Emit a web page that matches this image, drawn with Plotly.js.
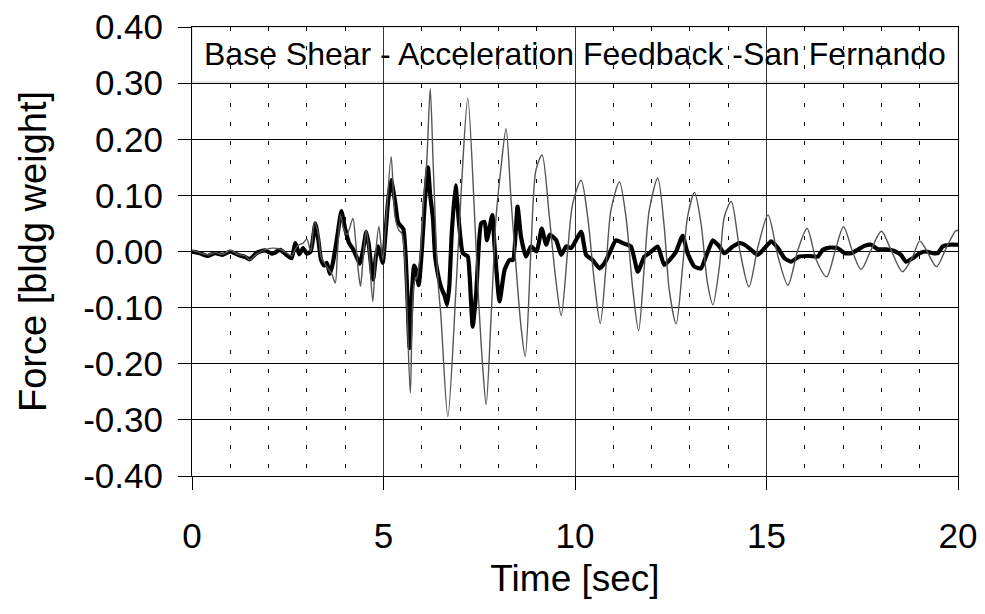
<!DOCTYPE html>
<html>
<head>
<meta charset="utf-8">
<script src="https://cdn.plot.ly/plotly-3.0.1.min.js"></script>
<style>html,body{margin:0;padding:0;background:#fff;}#chart{width:985px;height:614px;}</style>
</head>
<body>
<div id="chart"></div>
<script>
// Acceleration feedback (thick black)
const timeFeedback = [0,0.2,0.4,0.6,0.8,1.0,1.2,1.4,1.5,1.7,1.9,2.1,2.3,2.5,2.6,2.7,2.8,2.9,3.0,3.1,3.22,3.3,3.37,3.45,3.52,3.6,3.68,3.8,3.9,4.0,4.1,4.2,4.3,4.38,4.46,4.55,4.62,4.7,4.73,4.8,4.86,4.92,4.98,5.05,5.12,5.2,5.3,5.38,5.46,5.52,5.58,5.63,5.68,5.73,5.8,5.86,5.92,6.0,6.08,6.16,6.22,6.29,6.35,6.45,6.5,6.6,6.66,6.72,6.78,6.88,6.98,7.07,7.2,7.25,7.33,7.42,7.55,7.64,7.7,7.84,7.9,8.03,8.16,8.29,8.38,8.5,8.59,8.72,8.85,9.0,9.13,9.25,9.34,9.51,9.64,9.77,9.9,10.16,10.29,10.46,10.64,10.77,10.9,11.07,11.25,11.46,11.64,11.81,11.94,12.16,12.33,12.51,12.64,12.81,12.94,13.12,13.29,13.42,13.6,13.77,13.9,14.12,14.3,14.43,14.6,14.77,14.95,15.12,15.3,15.47,15.64,15.86,16.12,16.34,16.47,16.65,16.86,17.04,17.21,17.38,17.56,17.73,17.91,18.12,18.34,18.51,18.64,18.82,19.0,19.17,19.34,19.47,19.6,19.78,20.0];
const forceFeedback = [0.0,-0.003,-0.008,-0.003,-0.006,0.0,-0.006,-0.010,-0.014,-0.002,0.002,-0.004,0.003,-0.008,-0.012,0.015,-0.005,0.006,-0.004,0.0,0.050,0.02,-0.015,-0.025,-0.02,-0.04,-0.02,0.03,0.072,0.04,0.015,0.005,-0.01,-0.022,0.0,0.035,0.01,-0.04,-0.05,-0.01,0.009,-0.005,-0.02,0.03,0.09,0.127,0.09,0.052,0.045,0.04,-0.01,-0.09,-0.172,-0.09,-0.025,-0.035,-0.06,0.0,0.09,0.15,0.1,0.06,-0.01,-0.05,-0.063,-0.08,-0.095,-0.06,0.03,0.118,0.044,-0.003,-0.009,-0.045,-0.134,-0.074,0.05,0.053,0.02,0.065,0.009,-0.089,-0.033,-0.015,-0.015,0.08,0.026,-0.009,0.009,0.0,0.041,0.012,0.03,0.02,-0.006,0.009,0.006,0.035,-0.006,-0.015,-0.03,-0.021,-0.003,0.02,0.015,0.009,-0.036,-0.009,-0.003,0.009,-0.024,-0.012,0.0,0.028,-0.003,-0.027,-0.03,-0.009,0.02,0.009,-0.003,0.009,0.015,0.012,0.003,-0.006,0.006,0.018,0.006,-0.012,-0.018,-0.009,-0.008,-0.009,0.003,0.007,0.006,-0.003,-0.003,0.003,0.01,0.012,0.004,0.004,0.001,-0.006,-0.018,-0.012,-0.003,0.0,-0.003,-0.003,0.009,0.012,0.012];

// Uncontrolled (thin gray)
const timeUncontrolled = [0,0.2,0.4,0.6,0.8,1.0,1.2,1.4,1.5,1.7,1.9,2.1,2.3,2.5,2.6,2.75,2.9,3.0,3.1,3.2,3.3,3.37,3.45,3.55,3.65,3.74,3.8,3.88,3.96,4.05,4.2,4.27,4.35,4.4,4.47,4.55,4.62,4.72,4.8,4.88,4.98,5.05,5.2,5.3,5.4,5.48,5.57,5.7,5.8,5.88,5.97,6.05,6.13,6.22,6.3,6.42,6.5,6.68,6.9,7.03,7.2,7.38,7.46,7.59,7.68,7.81,7.94,8.07,8.2,8.33,8.46,8.59,8.7,8.85,8.98,9.14,9.33,9.49,9.64,9.81,9.94,10.16,10.33,10.51,10.66,10.81,10.94,11.16,11.33,11.51,11.66,11.81,11.94,12.16,12.33,12.46,12.64,12.81,12.94,13.12,13.29,13.46,13.6,13.77,13.9,14.08,14.3,14.54,14.78,15.04,15.3,15.56,15.82,16.06,16.3,16.57,16.8,17.01,17.26,17.47,17.73,18.0,18.25,18.55,18.82,19.0,19.17,19.44,19.69,19.93,20.0];
const forceUncontrolled = [0.002,-0.002,-0.006,-0.002,-0.005,0.002,-0.005,-0.008,-0.015,-0.004,0.003,0.006,0.004,-0.004,-0.008,0.01,0.015,0.022,0.0,0.053,0.03,-0.01,-0.02,-0.03,-0.04,-0.056,0.0,0.065,0.04,0.03,0.059,0.02,-0.04,-0.062,-0.01,0.038,0.0,-0.089,0.0,0.044,-0.015,0.04,0.169,0.062,0.038,0.032,-0.027,-0.252,-0.056,-0.045,0.003,0.092,0.16,0.29,0.15,-0.05,-0.116,-0.294,-0.057,0.109,0.273,0.062,-0.057,-0.205,-0.273,-0.116,0.062,0.151,0.219,0.092,-0.027,-0.134,-0.187,0.003,0.145,0.172,0.062,-0.045,-0.114,0.003,0.085,0.127,0.062,-0.057,-0.128,-0.027,0.074,0.124,0.062,-0.068,-0.141,-0.027,0.074,0.131,0.044,-0.068,-0.129,-0.027,0.062,0.105,0.05,-0.057,-0.095,-0.027,0.062,0.089,0.003,-0.063,0.009,0.065,-0.009,-0.06,0.003,0.041,-0.015,-0.045,0.003,0.044,-0.003,-0.032,0.003,0.036,0.003,-0.036,-0.009,0.019,0.003,-0.027,0.006,0.036,0.038];

const xTickVals = [0,5,10,15,20];
const xTickLabels = ['0','5','10','15','20'];
const yTickVals = [0.4,0.3,0.2,0.1,0,-0.1,-0.2,-0.3,-0.4];
const yTickLabels = ['0.40','0.30','0.20','0.10','0.00','-0.10','-0.20','-0.30','-0.40'];

const chartTitle = 'Base Shear - Acceleration Feedback -San Fernando';
const xTitle = 'Time [sec]';
const yTitle = 'Force [bldg weight]';

const FONT = 'Liberation Sans, Arial, Helvetica, sans-serif';

const traces = [
  {x: timeFeedback, y: forceFeedback, mode: 'lines', name: 'Acceleration Feedback',
   line: {color: '#000000', width: 4.2, shape: 'spline', smoothing: 0.5}, showlegend: false, hoverinfo: 'skip'},
  {x: timeUncontrolled, y: forceUncontrolled, mode: 'lines', name: 'Uncontrolled',
   line: {color: '#555555', width: 1.4, shape: 'spline', smoothing: 0.8}, showlegend: false, hoverinfo: 'skip'}
];

const layout = {
  width: 985, height: 614,
  margin: {l: 192, r: 27, t: 27, b: 138},
  paper_bgcolor: '#ffffff', plot_bgcolor: '#ffffff',
  font: {family: FONT, color: '#000000', size: 35},
  showlegend: false,
  xaxis: {
    range: [0, 20], tickmode: 'array', tickvals: xTickVals, ticktext: xTickLabels,
    ticks: 'outside', ticklen: 13, tickwidth: 1, tickcolor: '#000',
    showline: true, linecolor: '#000', linewidth: 1, mirror: true,
    showgrid: true, gridcolor: '#333333', gridwidth: 1,
    zeroline: false,
    minor: {dtick: 1, tick0: 0, showgrid: true, gridcolor: '#000000', gridwidth: 1, griddash: '4px,15px', ticks: ''},
    tickfont: {family: FONT, size: 35, color: '#000'},
    ticklabelstandoff: 16,
    title: {text: xTitle, font: {family: FONT, size: 37, color: '#000'}, standoff: 11},
    automargin: false
  },
  yaxis: {
    range: [-0.4, 0.4], tickmode: 'array', tickvals: yTickVals, ticktext: yTickLabels,
    ticks: 'outside', ticklen: 13, tickwidth: 1, tickcolor: '#000',
    showline: true, linecolor: '#000', linewidth: 1, mirror: true,
    showgrid: true, gridcolor: '#000000', gridwidth: 1,
    zeroline: false,
    tickfont: {family: FONT, size: 35, color: '#000'},
    ticklabelstandoff: 8,
    title: {text: yTitle, font: {family: FONT, size: 38, color: '#000'}, standoff: 24},
    automargin: false
  },
  shapes: [
    {type: 'rect', xref: 'paper', yref: 'y', x0: 0, x1: 1, y0: 0.302, y1: 0.4,
     fillcolor: '#ffffff', line: {color: '#cfcfcf', width: 1}, layer: 'between'}
  ],
  annotations: [
    {text: chartTitle, xref: 'paper', yref: 'y', x: 0.5, y: 0.352, xanchor: 'center', yanchor: 'middle',
     showarrow: false, font: {family: FONT, size: 32, color: '#000'}}
  ]
};

Plotly.newPlot('chart', traces, layout, {staticPlot: true, displayModeBar: false});
</script>
</body>
</html>
